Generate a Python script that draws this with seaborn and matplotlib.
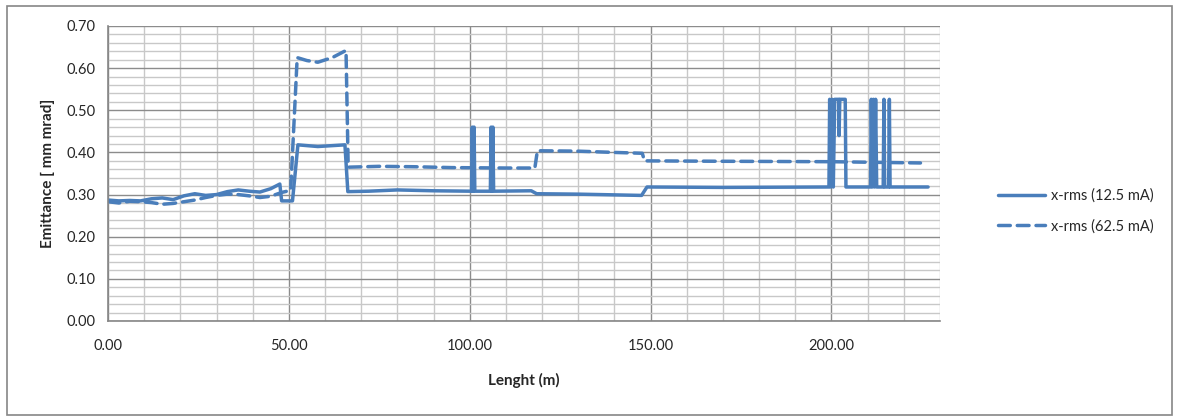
import numpy as np
import pandas as pd
import matplotlib
matplotlib.use('Agg')
import matplotlib.pyplot as plt
import matplotlib.patches as patches
from matplotlib.ticker import MultipleLocator, FormatStrFormatter
import seaborn as sns

# x-rms emittance along the linac, 12.5 mA beam (solid)
len_12 = [0, 3, 6, 9, 12, 15, 18, 21, 24, 27, 30, 33, 36, 39, 42, 45, 47.5, 48, 51,
          52.5, 58, 65.5, 66.3, 72, 80, 90,
          100.5, 100.7, 100.9, 101.2, 101.4, 105.7, 105.9, 106.1, 106.4, 106.6,
          117, 118.5, 130, 147.5, 149, 170,
          199.3, 199.5, 199.8, 200.2, 200.5, 200.9, 202.0, 202.1, 202.3, 203.8, 204.0,
          210.8, 211.0, 211.3, 211.6, 211.9, 212.2, 212.5,
          214.3, 214.5, 214.7, 215.8, 216.0, 216.2, 226.7]
emit_12 = [0.287, 0.285, 0.286, 0.285, 0.290, 0.292, 0.288, 0.297, 0.302, 0.298, 0.300,
           0.307, 0.311, 0.308, 0.306, 0.314, 0.325, 0.285, 0.285,
           0.418, 0.414, 0.418, 0.307, 0.308, 0.311, 0.309,
           0.308, 0.46, 0.308, 0.46, 0.308, 0.308, 0.46, 0.308, 0.46, 0.308,
           0.309, 0.302, 0.301, 0.298, 0.318, 0.317,
           0.318, 0.526, 0.318, 0.526, 0.318, 0.526, 0.526, 0.44, 0.526, 0.526, 0.318,
           0.318, 0.526, 0.318, 0.526, 0.318, 0.526, 0.318,
           0.318, 0.526, 0.318, 0.318, 0.526, 0.318, 0.318]

# x-rms emittance, 62.5 mA beam (dashed)
len_62 = [0, 3, 6, 9, 12, 15, 18, 21, 24, 27, 30, 33, 36, 39, 42, 45, 48, 50.5,
          52.3, 55, 58, 62, 65.8, 66.4, 75, 85, 95, 110, 118, 118.7, 130, 140,
          147.7, 148.3, 170, 200, 224.6]
emit_62 = [0.283, 0.280, 0.284, 0.283, 0.281, 0.277, 0.279, 0.283, 0.287, 0.293, 0.298,
           0.301, 0.300, 0.297, 0.293, 0.296, 0.305, 0.310,
           0.625, 0.618, 0.614, 0.625, 0.642, 0.365, 0.367, 0.366, 0.364, 0.363, 0.363,
           0.404, 0.403, 0.400, 0.398, 0.380, 0.379, 0.378, 0.375]

labels = ['x-rms (12.5 mA)', 'x-rms (62.5 mA)']

LINE_COLOR = '#4a7ebb'

sns.set_style('white')
plt.rcParams['font.family'] = ['Lato', 'DejaVu Sans']

fig = plt.figure(figsize=(11.77, 4.17), dpi=100)
ax = fig.add_axes([108/1177, 1 - 321/417, (940 - 108)/1177, (321 - 26)/417])

df12 = pd.DataFrame({'len': len_12, 'emit': emit_12})
df62 = pd.DataFrame({'len': len_62, 'emit': emit_62})

sns.lineplot(data=df12, x='len', y='emit', ax=ax, sort=False, estimator=None,
             color=LINE_COLOR, lw=2.5, label=labels[0])
sns.lineplot(data=df62, x='len', y='emit', ax=ax, sort=False, estimator=None,
             color=LINE_COLOR, lw=2.5, linestyle=(0, (3.4, 2.0)),
             dash_capstyle='round', label=labels[1])

ax.set_xlim(0, 230)
ax.set_ylim(0, 0.70)
ax.xaxis.set_major_locator(MultipleLocator(50))
ax.xaxis.set_minor_locator(MultipleLocator(10))
ax.yaxis.set_major_locator(MultipleLocator(0.1))
ax.yaxis.set_minor_locator(MultipleLocator(0.02))
ax.xaxis.set_major_formatter(FormatStrFormatter('%.2f'))
ax.yaxis.set_major_formatter(FormatStrFormatter('%.2f'))

ax.grid(which='major', color='#8c8c8c', lw=1.0)
ax.grid(which='minor', color='#c8c8c8', lw=1.0)
ax.set_axisbelow(True)

for side in ['top', 'right']:
    ax.spines[side].set_visible(False)
for side in ['left', 'bottom']:
    ax.spines[side].set_color('#868686')
    ax.spines[side].set_linewidth(1.2)

ax.tick_params(which='major', direction='out', length=5, width=1, color='#868686',
               labelsize=10.5, pad=4)
ax.tick_params(which='minor', length=0)
ax.tick_params(axis='x', pad=8)

ax.set_xlabel('Lenght (m)', fontsize=11, fontweight='bold', labelpad=14)
ax.set_ylabel('Emittance [ mm mrad]', fontsize=11, fontweight='bold', labelpad=8)

ax.legend(loc='center left', bbox_to_anchor=(985/1177, 1 - 211/417),
          bbox_transform=fig.transFigure, frameon=False, fontsize=10.5,
          handlelength=3.2, handletextpad=0.4, labelspacing=1.1)

# outer chart border
fig.patches.append(patches.Rectangle((7/1177, 2/417), 1165/1177, 409/417,
                                     transform=fig.transFigure, fill=False,
                                     edgecolor='#868686', lw=1.2))

fig.savefig('out.png', dpi=100)
